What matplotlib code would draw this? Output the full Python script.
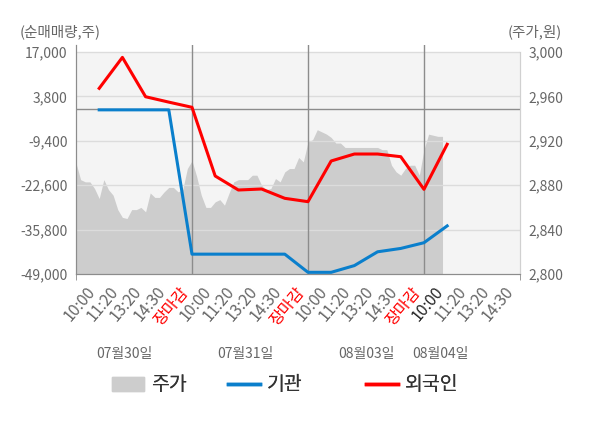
import numpy as np
import matplotlib.pyplot as plt
from matplotlib.lines import Line2D
from matplotlib.patches import Patch

plt.rcParams['font.family'] = ['Noto Sans CJK KR', 'DejaVu Sans']

# x축 라벨 (4일치, 마지막 날은 장마감 없음)
tick_labels = ['10:00', '11:20', '13:20', '14:30', '장마감'] * 3 + ['10:00', '11:20', '13:20', '14:30']
dates = ['07월30일', '07월31일', '08월03일', '08월04일']

# 기관 / 외국인 누적 순매매량 (주)
inst = [-200, -200, -200, -200, -43100, -43100, -43100, -43100, -43100,
        -48500, -48500, -46500, -42400, -41400, -39700, -34700]
foreign = [6200, 15400, 3700, 2100, 560, -19860, -24030, -23730, -26500,
           -27500, -15400, -13330, -13330, -14130, -23830, -10440]

# 주가 (원) - 분 단위 흐름을 읽은 값
price = [2900, 2885, 2883, 2883, 2877, 2868, 2885, 2876, 2871, 2858,
         2851, 2850, 2858, 2858, 2860, 2856, 2873, 2869, 2869, 2874,
         2878, 2878, 2874, 2876, 2895, 2902, 2888, 2871, 2860, 2860,
         2865, 2867, 2862, 2873, 2883, 2885, 2885, 2885, 2889, 2889,
         2880, 2876, 2877, 2886, 2883, 2892, 2895, 2895, 2905, 2901,
         2919, 2921, 2930, 2928, 2926, 2923, 2918, 2918, 2914, 2914,
         2914, 2914, 2914, 2914, 2914, 2914, 2912, 2912, 2898, 2892,
         2889, 2895, 2898, 2898, 2889, 2912, 2926, 2925, 2924, 2924]

x_pts = np.arange(len(inst))
x_price = -1 + 0.2 * np.arange(len(price))

fig = plt.figure(figsize=(6, 4.28), dpi=100)
ax = fig.add_axes([76 / 600, 1 - 274 / 428, 444 / 600, 229 / 428])  # 주가 축 (오른쪽)
ax2 = ax.twinx()  # 순매매량 축 (왼쪽)

gray = '#666666'
ylo, yhi = 2800, 3000
ax.set_ylim(ylo, yhi + 7 / 222 * 200)
ax.set_xlim(-1, 18.14)
ax.axhspan(ylo, yhi, color='#f4f4f4', zorder=0, lw=0)
ax.fill_between(x_price, ylo, price, color='#cdcdcd', lw=0, zorder=1)
for v in np.arange(2840, 3001, 40):
    ax.plot([-1, 18.14], [v, v], color='#dcdcdc', lw=1, zorder=2)
for d in [4, 9, 14]:
    ax.axvline(d, color='#8c8c8c', lw=1, zorder=2)

ax.yaxis.tick_right()
ax.set_yticks(np.arange(2800, 3001, 40))
ax.set_yticklabels(['{:,}'.format(v) for v in range(2800, 3001, 40)])
ax.tick_params(axis='y', right=True, length=0, pad=6, labelsize=10, labelcolor=gray)

ax2.set_ylim(-49000, 17000 + 7 / 222 * 66000)
ax2.axhline(0, color='#8c8c8c', lw=1, zorder=2)
ax2.plot(x_pts, inst, color='#0a7fcc', lw=2.2, zorder=4)
ax2.plot(x_pts, foreign, color='#ff0000', lw=2.2, zorder=5)
ax2.yaxis.tick_left()
left_ticks = [17000, 3800, -9400, -22600, -35800, -49000]
ax2.set_yticks(left_ticks)
ax2.set_yticklabels(['{:,}'.format(v) for v in left_ticks])
ax2.tick_params(axis='y', left=True, right=False, labelleft=True, labelright=False,
                length=0, pad=6, labelsize=10, labelcolor=gray)

for a in (ax, ax2):
    a.spines['top'].set_visible(False)
    a.spines['left'].set_color('#8c8c8c')
    a.spines['bottom'].set_color('#8c8c8c')
    a.spines['right'].set_color('#d0d0d0')
    a.spines['right'].set_bounds(*((ylo, yhi) if a is ax else (-49000, 17000)))

ax.set_xticks(np.arange(len(tick_labels)))
ax.set_xticklabels(tick_labels, rotation=50, ha='right', rotation_mode='default')
ax.set_xticks([-1, 4, 9, 14, 18.14], minor=True)
ax.tick_params(axis='x', which='major', length=0, pad=7, labelsize=11.5, labelcolor=gray)
ax.tick_params(axis='x', which='minor', length=4, color='#8c8c8c')
for i, t in enumerate(ax.get_xticklabels()):
    if tick_labels[i] == '장마감':
        t.set_color('#ff0000')
    elif i == 15:
        t.set_color('#222222')

for dx, txt in zip([1.1, 6.3, 11.5, 14.7], dates):
    ax.text(dx, -0.35, txt, transform=ax.get_xaxis_transform(), ha='center', va='center',
            fontsize=10, color=gray)

fig.text(20 / 600, 1 - 32 / 428, '(순매매량,주)', fontsize=10.5, color=gray, va='center')
fig.text(562 / 600, 1 - 32 / 428, '(주가,원)', fontsize=10.5, color=gray, va='center', ha='right')

# 범례 - 항목별로 위치 지정
legend_items = [(Patch(color='#cdcdcd'), '주가', 112),
                (Line2D([], [], color='#0a7fcc', lw=2.5), '기관', 228),
                (Line2D([], [], color='#ff0000', lw=2.5), '외국인', 366)]
for h, lab, px in legend_items:
    lg = fig.legend([h], [lab], loc='center left', bbox_to_anchor=(px / 600, 1 - 385 / 428),
                    frameon=False, fontsize=14, labelcolor='#333333', handlelength=1.65,
                    handleheight=0.72, handletextpad=0.35, borderpad=0, borderaxespad=0)
    fig.add_artist(lg)

fig.savefig('out.png', dpi=100)
